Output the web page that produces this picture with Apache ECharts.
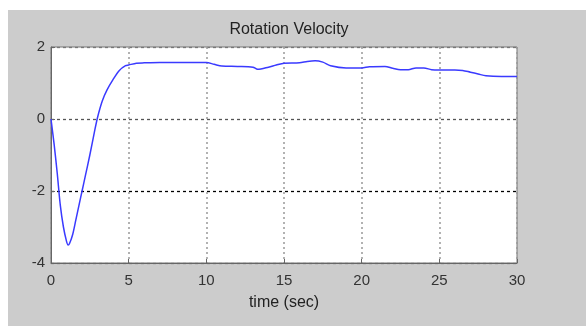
<!DOCTYPE html>
<html><head><meta charset="utf-8">
<script src="https://cdn.jsdelivr.net/npm/echarts@6/dist/echarts.min.js"></script>
<style>html,body{margin:0;padding:0;background:#fff}#c{width:586px;height:326px}</style>
</head><body><div id="c"></div>
<script>
const titleText = 'Rotation Velocity';
const xAxisName = 'time (sec)';
const timeValues = [0,0.2,0.4,0.6,0.8,1.0,1.1,1.2,1.4,1.6,1.8,2.0,2.2,2.5,2.8,3.0,3.3,3.6,4.0,4.4,4.8,5.0,5.5,6,7,8,9,10,10.5,11,12,13,13.3,14,14.5,15,16,16.5,17,17.5,18,19,20,20.5,21.5,22,22.5,23,23.5,24,24.5,25,26,26.5,27,27.5,28,29,30];
const velocityValues = [0,-0.7,-1.5,-2.4,-3.0,-3.4,-3.5,-3.45,-3.2,-2.8,-2.4,-2.0,-1.6,-1.0,-0.35,0.05,0.5,0.8,1.1,1.35,1.48,1.5,1.55,1.56,1.57,1.57,1.57,1.57,1.52,1.47,1.46,1.44,1.38,1.44,1.5,1.55,1.56,1.6,1.62,1.58,1.48,1.42,1.42,1.45,1.46,1.41,1.37,1.37,1.42,1.42,1.37,1.36,1.36,1.35,1.3,1.25,1.2,1.18,1.18];
const xTicks = {min:0, max:30, interval:5};
const yTicks = {min:-4, max:2, interval:2};

const font = 'Arial, "Liberation Sans", sans-serif';
const chart = echarts.init(document.getElementById('c'));
chart.setOption({
  backgroundColor: '#fff',
  animation: false,
  graphic: [{type:'rect', left:8, top:10, shape:{width:578, height:316}, style:{fill:'#cccccc'}, z:-10}],
  title: {text: titleText, left: 284, textAlign:'center', top: 17,
    textStyle:{fontFamily:font, fontSize:16, fontWeight:'normal', color:'#222'}},
  grid: {left:51, top:47, right:69, bottom:63, show:true, backgroundColor:'#fff', borderColor:'#777', borderWidth:1},
  xAxis: {type:'value', min:xTicks.min, max:xTicks.max, interval:xTicks.interval,
    name: xAxisName, nameLocation:'middle', nameGap:32,
    nameTextStyle:{fontFamily:font, fontSize:16, color:'#222'},
    axisLine:{show:true, onZero:false, lineStyle:{color:'#666'}},
    axisTick:{show:true, inside:true, length:4, lineStyle:{color:'#666'}},
    axisLabel:{fontFamily:font, fontSize:15, color:'#333', margin:10},
    splitLine:{show:true, lineStyle:{type:[2,3], color:'#999', width:1.5}}},
  yAxis: {type:'value', min:yTicks.min, max:yTicks.max, interval:yTicks.interval,
    axisLine:{show:true, onZero:false, lineStyle:{color:'#666'}},
    axisTick:{show:true, inside:true, length:4, lineStyle:{color:'#666'}},
    axisLabel:{fontFamily:font, fontSize:15, color:'#333', margin:6},
    splitLine:{show:true, lineStyle:{type:[3,3], color:['#777','#000','#555','#777'], width:1.3}}},
  series: [{type:'line', data: timeValues.map((t,i)=>[t, velocityValues[i]]),
    showSymbol:false, smooth:0.3, lineStyle:{color:'#3a3aff', width:1.5}}]
});
</script></body></html>
